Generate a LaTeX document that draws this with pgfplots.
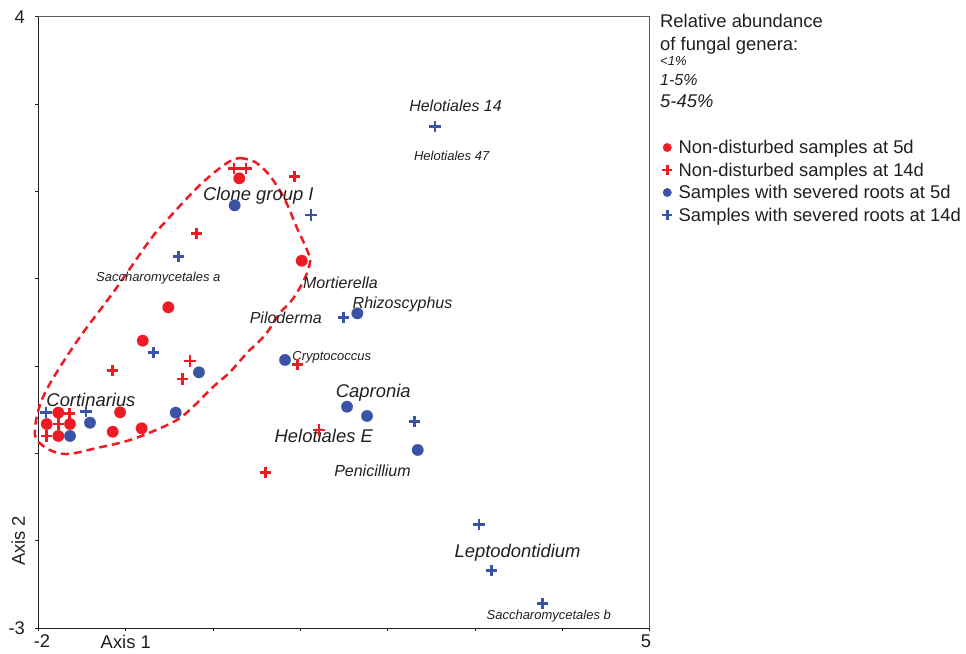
\documentclass[border=0pt]{standalone}
\usepackage{fontspec}
\setmainfont{Liberation Sans}
\usepackage{pgfplots}
\pgfplotsset{compat=1.18}
\definecolor{cred}{RGB}{237,28,36}
\definecolor{cblue}{RGB}{58,83,164}
\definecolor{ctext}{RGB}{35,31,32}
\newcommand{\fL}{\fontsize{18.4}{22}\selectfont}
\newcommand{\fM}{\fontsize{16}{19}\selectfont}
\newcommand{\fS}{\fontsize{13}{15.6}\selectfont}
\tikzset{lbl/.style={anchor=center, inner sep=0pt, text height=0.72em, text depth=0pt, text=ctext}}
\begin{document}
\begin{tikzpicture}[x=1pt,y=1pt]
\useasboundingbox (0,0) rectangle (966,653);
\begin{axis}[
  at={(38.5pt,24.7pt)}, anchor=south west,
  scale only axis, width=611.1pt, height=611.6pt,
  xmin=-2, xmax=5, ymin=-3, ymax=4,
  axis lines=left, axis line style={-, ctext, line width=0.9pt},
  xtick={-2,-1,0,1,2,3,4,5}, ytick={-3,-2,-1,0,1,2,3,4},
  xticklabels={\hspace*{7pt}-2,Axis 1,,,,,,5\hspace*{7pt}},
  yticklabels={-3,,,,,,,4},
  tick align=outside, major tick length=3pt,
  tick style={ctext, line width=0.9pt},
  ticklabel style={font=\fL, text=ctext},
  yticklabel style={xshift=-7pt},
  ylabel={Axis 2},
  ylabel style={at={(axis description cs:-0.0331,0.142857)}, anchor=center, font=\fL, text=ctext},
  clip=false,
  legend cell align=left,
  legend style={draw=none, fill=none, at={(1.0187,0.7976)}, anchor=north west,
    font=\fL, text=ctext, inner sep=0pt, outer sep=0pt, row sep=5pt, column sep=5pt,
    nodes={inner sep=0pt, text height=13.5pt, text depth=4pt}},
]
% dashed outline of the cluster
\addplot[cred, dashed, dash pattern=on 8pt off 5pt, line width=2.5pt, smooth, tension=0.6, forget plot] coordinates {
(0.308,2.383) (0.480,2.337) (0.652,2.177) (0.824,1.902) (0.961,1.582) (1.076,1.330)
(1.110,1.192) (1.041,0.986) (0.904,0.757) (0.766,0.609) (0.595,0.357) (0.388,0.151)
(0.194,-0.067) (-0.001,-0.238) (-0.207,-0.444) (-0.379,-0.593) (-0.574,-0.696)
(-0.952,-0.845) (-1.330,-0.936) (-1.662,-1.005) (-1.868,-0.960) (-2.017,-0.845)
(-2.040,-0.708) (-1.983,-0.444) (-1.845,-0.158) (-1.525,0.334) (-1.124,0.872)
(-0.723,1.444) (-0.528,1.673) (-0.150,2.074) (0.159,2.326) (0.308,2.383)};

\addplot[only marks, mark=*, mark size=5.8pt, color=cred, mark options={fill=cred, draw=cred, line width=0.1pt},
  legend image code/.code={\fill[cred] (4pt,1.7pt) circle (4.2pt);}] table {
x y
-1.773 -0.532
-1.906 -0.662
-1.639 -0.662
-1.773 -0.799
-1.066 -0.528
-1.150 -0.750
-0.818 -0.711
-0.513 0.674
-0.806 0.292
0.300 2.150
1.015 1.207
};
\addlegendentry{Non-disturbed samples at 5d}

\addplot[only marks, mark=+, mark size=5.6pt, color=cred, mark options={line width=2.6pt},
  legend image code/.code={\draw[cred, line width=2.5pt] (-1pt,1.7pt)--(9pt,1.7pt) (4pt,-3.3pt)--(4pt,6.7pt);}] table {
x y
-1.647 -0.539
-1.773 -0.662
-1.906 -0.799
-1.155 -0.052
-0.265 0.059
-0.348 -0.147
0.965 0.022
0.239 2.265
0.377 2.265
0.935 2.169
-0.188 1.521
1.213 -0.730
0.602 -1.215
};
\addlegendentry{Non-disturbed samples at 14d}

\addplot[only marks, mark=*, mark size=5.8pt, color=cblue, mark options={fill=cblue, draw=cblue, line width=0.1pt},
  legend image code/.code={\fill[cblue] (4pt,1.7pt) circle (4.2pt);}] table {
x y
-1.410 -0.647
-1.639 -0.799
-0.428 -0.532
-0.162 -0.070
0.824 0.071
0.247 1.841
1.652 0.605
1.534 -0.464
1.763 -0.570
2.344 -0.959
};
\addlegendentry{Samples with severed roots at 5d}

\addplot[only marks, mark=+, mark size=5.6pt, color=cblue, mark options={line width=2.6pt},
  legend image code/.code={\draw[cblue, line width=2.5pt] (-1pt,1.7pt)--(9pt,1.7pt) (4pt,-3.3pt)--(4pt,6.7pt);}] table {
x y
-1.914 -0.532
-1.456 -0.516
-0.685 0.159
-0.399 1.253
1.121 1.730
1.491 0.559
2.305 -0.636
3.046 -1.810
3.191 -2.341
3.771 -2.714
2.542 2.741
};
\addlegendentry{Samples with severed roots at 14d}

% frame top and right
\draw[gray!70!black, line width=1.2pt] (rel axis cs:0,1) -- (rel axis cs:1,1) -- (rel axis cs:1,0);

% genus labels
\node[lbl, font=\fM\itshape] at (axis cs:2.777,2.955) {Helotiales 14};
\node[lbl, font=\fS\itshape] at (axis cs:2.733,2.398) {Helotiales 47};
\node[lbl, font=\fL\itshape] at (axis cs:0.518,1.940) {Clone group I};
\node[lbl, font=\fS\itshape] at (axis cs:-0.628,1.006) {Saccharomycetales a};
\node[lbl, font=\fM\itshape] at (axis cs:1.459,0.929) {Mortierella};
\node[lbl, font=\fM\itshape] at (axis cs:2.170,0.700) {Rhizoscyphus};
\node[lbl, font=\fM\itshape] at (axis cs:0.833,0.529) {Piloderma};
\node[lbl, font=\fS\itshape] at (axis cs:1.359,0.109) {Cryptococcus};
\node[lbl, font=\fL\itshape] at (axis cs:1.835,-0.318) {Capronia};
\node[lbl, font=\fL\itshape] at (axis cs:1.268,-0.834) {Helotiales E};
\node[lbl, font=\fM\itshape] at (axis cs:1.826,-1.226) {Penicillium};
\node[lbl, font=\fL\itshape] at (axis cs:-1.399,-0.425) {Cortinarius};
\node[lbl, font=\fL\itshape] at (axis cs:3.487,-2.150) {Leptodontidium};
\node[lbl, font=\fS\itshape] at (axis cs:3.845,-2.856) {Saccharomycetales b};
\end{axis}
% header of the legend
\node[anchor=base west, inner sep=0pt, font=\fL, text=ctext] at (660,625.5) {Relative abundance};
\node[anchor=base west, inner sep=0pt, font=\fL, text=ctext] at (660,602.5) {of fungal genera:};
\node[anchor=base west, inner sep=0pt, font=\fS\itshape, text=ctext] at (660,587.3) {<1\%};
\node[anchor=base west, inner sep=0pt, font=\fM\itshape, text=ctext] at (660,567.7) {1-5\%};
\node[anchor=base west, inner sep=0pt, font=\fL\itshape, text=ctext] at (660,545.7) {5-45\%};
\end{tikzpicture}
\end{document}
